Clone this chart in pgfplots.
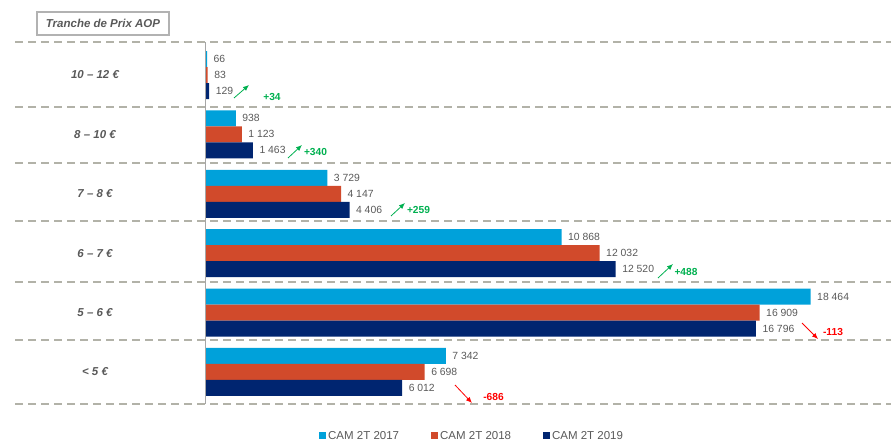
\documentclass[border=0pt]{standalone}
\usepackage{fontspec}
\setmainfont{Liberation Sans}
\usepackage{pgfplots}
\pgfplotsset{compat=1.18}
\usetikzlibrary{arrows.meta}

\definecolor{c17}{RGB}{0,161,218}
\definecolor{c18}{RGB}{209,74,43}
\definecolor{c19}{RGB}{0,37,112}
\definecolor{txt}{RGB}{89,89,89}
\definecolor{sep}{RGB}{178,178,168}
\definecolor{up}{RGB}{0,176,80}
\definecolor{down}{RGB}{255,0,0}

% y index: 0 = < 5 EUR ... 5 = 10-12 EUR
\pgfplotstableread{
y  v17   v18   v19
0  7342  6698  6012
1  18464 16909 16796
2  10868 12032 12520
3  3729  4147  4406
4  938   1123  1463
5  66    83    129
}\prix

\begin{document}
\begin{tikzpicture}[catlab/.style={font=\fontsize{11.5}{13}\selectfont\bfseries\itshape, text=txt}]
\useasboundingbox (0,0) rectangle (891pt,443pt);
\begin{axis}[
  at={(15pt,39pt)}, anchor=south west,
  scale only axis, width=876pt, height=362pt,
  xmin=-5792, xmax=20912,
  ymin=-0.539, ymax=5.556,
  hide axis, clip=false,
  xbar, bar width=16pt,
  nodes near coords={\pgfmathprintnumber[1000 sep={\ },assume math mode=true]{\pgfplotspointmeta}},
  nodes near coords style={font=\fontsize{10.4}{12}\selectfont, text=txt, xshift=3pt},
  legend columns=3,
  legend style={draw=none, fill=none, font=\fontsize{11.5}{13}\selectfont, text=txt,
    at={(axis description cs:0.3436,-0.0884)}, anchor=west,
    /tikz/every even column/.append style={column sep=30pt}},
  legend image code/.code={\fill[#1] (0pt,-3.5pt) rectangle (7pt,3.5pt);},
]
\addplot[fill=c17, draw=none, bar shift=16pt] table[x=v17, y=y] {\prix};
\addplot[fill=c18, draw=none, bar shift=0pt] table[x=v18, y=y] {\prix};
\addplot[fill=c19, draw=none, bar shift=-16pt] table[x=v19, y=y] {\prix};
\legend{CAM 2T 2017, CAM 2T 2018, CAM 2T 2019}

% separators and axis line
\pgfplotsinvokeforeach{-0.539,0.539,1.515,2.542,3.519,4.461,5.556}{
  \draw[sep, line width=1.3pt, dash pattern=on 8pt off 5pt] (axis cs:-5792,#1) -- (axis cs:20912,#1);
}
\draw[gray!70] (axis cs:0,-0.539) -- (axis cs:0,5.556);

% category labels
\node[catlab] at (axis cs:-3353,0) {< 5 €};
\node[catlab] at (axis cs:-3353,1) {5 – 6 €};
\node[catlab] at (axis cs:-3353,2) {6 – 7 €};
\node[catlab] at (axis cs:-3353,3) {7 – 8 €};
\node[catlab] at (axis cs:-3353,4) {8 – 10 €};
\node[catlab] at (axis cs:-3353,5) {10 – 12 €};
\end{axis}

% title box
\node[draw=gray!60, line width=1.3pt, minimum width=132pt, minimum height=23pt,
  font=\fontsize{11.5}{13}\selectfont\bfseries\itshape, text=txt] at (103pt,419.5pt) {Tranche de Prix AOP};

% change annotations
\begin{scope}[font=\fontsize{10.2}{12}\selectfont\bfseries, line width=0.8pt]
\draw[up, -{Latex[length=6pt,width=5pt]}] (234pt,345pt) -- (249pt,358pt);
\node[text=up] at (272pt,346pt) {+34};
\draw[up, -{Latex[length=6pt,width=5pt]}] (288pt,285pt) -- (302pt,298pt);
\node[text=up] at (315.5pt,291pt) {+340};
\draw[up, -{Latex[length=6pt,width=5pt]}] (391pt,227pt) -- (405pt,240pt);
\node[text=up] at (418.5pt,233pt) {+259};
\draw[up, -{Latex[length=6pt,width=5pt]}] (658pt,165pt) -- (673pt,179pt);
\node[text=up] at (686pt,171pt) {+488};
\draw[down, -{Latex[length=6pt,width=5pt]}] (802pt,120pt) -- (818pt,104pt);
\node[text=down] at (833pt,111pt) {-113};
\draw[down, -{Latex[length=6pt,width=5pt]}] (455pt,58pt) -- (472pt,40pt);
\node[text=down] at (493.5pt,46pt) {-686};
\end{scope}
\end{tikzpicture}
\end{document}
